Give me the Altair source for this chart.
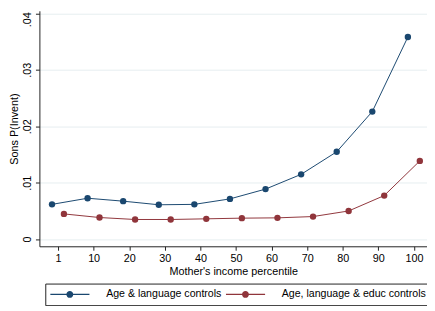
import json
import altair as alt
import pandas as pd

# ---- data ----
deciles = list(range(11))
x_tick_labels = ["1", "10", "20", "30", "40", "50", "60", "70", "80", "90", "100"]
y_tick_values = [0, 0.01, 0.02, 0.03, 0.04]
y_tick_labels = ["0", ".01", ".02", ".03", ".04"]
series_names = ["Age & language controls", "Age, language & educ controls"]
age_lang = [0.00616, 0.00725, 0.00673, 0.00609, 0.00616, 0.00713,
            0.00887, 0.01148, 0.01548, 0.02261, 0.03583]
age_lang_educ = [0.00447, 0.00383, 0.00348, 0.00348, 0.00360, 0.00372,
                 0.00377, 0.00400, 0.00499, 0.00772, 0.01386]
series_colors = ["#1a476f", "#90353b"]

rows = []
for s, vals in zip(series_names, [age_lang, age_lang_educ]):
    for d, v in zip(deciles, vals):
        rows.append({"decile": d, "series": s, "value": v})
df = pd.DataFrame(rows)

FONT = "Liberation Sans"

x_enc = alt.X(
    "pos:Q",
    scale=alt.Scale(domain=[-0.524, 10.367], nice=False, zero=False),
    axis=alt.Axis(
        values=deciles,
        labelExpr=f"{json.dumps(x_tick_labels)}[round(datum.value)]",
        title="Mother's income percentile",
        grid=False,
        tickSize=4,
        labelPadding=2,
        titlePadding=3,
    ),
)
y_enc = alt.Y(
    "value:Q",
    scale=alt.Scale(domain=[-0.00127, 0.04047], nice=False, zero=False),
    axis=alt.Axis(
        values=y_tick_values,
        labelExpr=f"{json.dumps(y_tick_labels)}[round(datum.value*100)]",
        title="Sons P(Invent)",
        grid=True,
        tickSize=4,
        labelAngle=270,
        labelAlign="center",
        labelBaseline="bottom",
        labelPadding=3,
        labelOffset={"condition": {"test": "datum.value >= 0.039", "value": 6}, "value": 0},
        titlePadding=2,
    ),
)

legend_path = ("M-1,-0.03H1V0.03H-1Z "
               "M-0.175,0A0.175,0.175 0 1,1 0.175,0A0.175,0.175 0 1,1 -0.175,0Z")

legend = alt.Legend(
    title=None,
    orient="none",
    legendX=6,
    legendY=278,
    direction="horizontal",
    columns=2,
    symbolType=legend_path,
    symbolSize=1600,
    clipHeight=12,
    symbolStrokeWidth=0,
    symbolOpacity=1,
    labelFont=FONT,
    labelFontSize=10.8,
    labelColor="#000000",
    labelOffset=17,
    labelLimit=0,
    columnPadding=4,
    padding=5,
    strokeColor="#222222",
    fillColor="#ffffff",
    cornerRadius=0,
)

color_enc = alt.Color(
    "series:N",
    scale=alt.Scale(domain=series_names, range=series_colors),
    legend=legend,
)

base = alt.Chart(df).transform_calculate(
    pos="datum.decile + (datum.series == '" + series_names[0] + "' ? -0.17 : 0.165)"
)

lines = base.mark_line(strokeWidth=1).encode(
    x=x_enc,
    y=y_enc,
    color=color_enc,
    order="decile:Q",
)

points = base.mark_point(filled=True, size=42, opacity=1).encode(
    x=x_enc,
    y=y_enc,
    color=color_enc,
)

chart = alt.layer(lines, points).properties(
    width=395,
    height=240,
    autosize=alt.AutoSizeParams(type="none"),
    padding={"left": 32, "top": 0, "right": 0, "bottom": 58},
    background="#ffffff",
).configure_view(stroke=None).configure_axis(
    labelFont=FONT,
    titleFont=FONT,
    labelFontSize=11,
    titleFontSize=11,
    titleFontWeight="normal",
    labelColor="#000000",
    titleColor="#000000",
    domainColor="#222222",
    tickColor="#222222",
    domainWidth=1,
    tickWidth=1,
    gridColor="#e6eef0",
    gridWidth=1,
)

chart.save("out.html", embed_options={"renderer": "svg", "actions": False})
